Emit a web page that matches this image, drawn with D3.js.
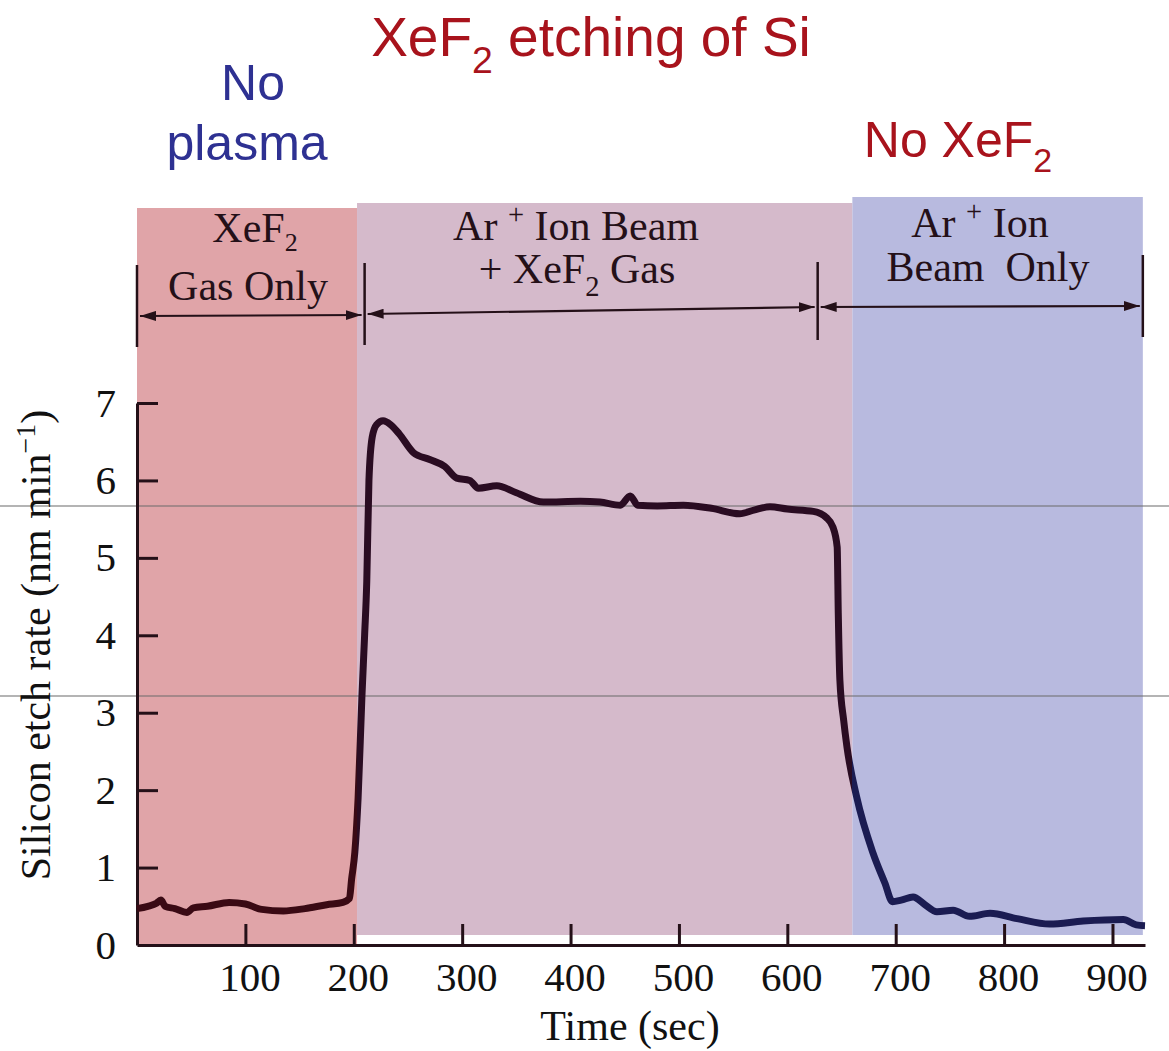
<!DOCTYPE html>
<html><head><meta charset="utf-8">
<script src="https://cdn.jsdelivr.net/npm/d3@7"></script>
<style>body{margin:0;background:#fff;overflow:hidden}</style>
</head><body><svg id="c" width="1169" height="1051"></svg>
<script>
// ---- data ----
const xTickValues = [100, 200, 300, 400, 500, 600, 700, 800, 900];
const yTickValues = [0, 1, 2, 3, 4, 5, 6, 7];
const times = [0, 10, 18, 22, 26, 35, 46, 52, 65, 85, 100, 115, 135, 155, 175, 190, 196,
  198, 201, 204, 207.5, 210, 212, 214, 217, 221, 227, 234, 242, 255, 270, 284, 295, 307, 315, 332, 350, 375,
  409, 427, 446, 455, 462, 480, 504, 530, 556, 570, 584, 600, 624, 636, 642, 646, 647, 648.5, 652, 655, 664, 679, 690, 697,
  705, 716, 727, 738, 753, 768, 787, 812, 842, 873, 910, 922, 930];
const rates = [0.47, 0.5, 0.54, 0.58, 0.5, 0.47, 0.42, 0.48, 0.5, 0.55, 0.53, 0.46, 0.44, 0.47, 0.52, 0.55, 0.6,
  0.85, 1.2, 1.9, 3.2, 4.0, 4.7, 6.0, 6.56, 6.72, 6.77, 6.72, 6.6, 6.36, 6.27, 6.18, 6.03, 6.0, 5.9, 5.93, 5.84, 5.72,
  5.73, 5.72, 5.68, 5.8, 5.68, 5.67, 5.68, 5.64, 5.57, 5.62, 5.66, 5.63, 5.6, 5.52, 5.4, 5.14, 4.29, 3.42, 2.9, 2.56, 1.91, 1.19, 0.8, 0.56,
  0.58, 0.62, 0.52, 0.43, 0.45, 0.37, 0.41, 0.34, 0.27, 0.31, 0.33, 0.26, 0.25];
const bandStart = [0, 203, 660];
const bandEnd = [203, 660, 928];
const bandColors = ["#e0a4a8", "#d5bacb", "#b8badf"];
const phaseBoundaries = [0, 210, 628, 928];

// ---- layout ----
const svg = d3.select("#c");
const x = d3.scaleLinear().domain([0, 930]).range([137, 1145]);
const y = d3.scaleLinear().domain([0, 7]).range([945, 403]);
const serif = "'Liberation Serif','Times New Roman',serif";
const sans = "'Liberation Sans',Arial,sans-serif";
const ink = "#241018";

// bands
const bandTop = [208, 203, 197];
const bandBottom = [945, 935, 935];
svg.selectAll("rect.band").data(bandStart).join("rect").attr("class", "band")
  .attr("x", (d, i) => x(d)).attr("width", (d, i) => x(bandEnd[i]) - x(d))
  .attr("y", (d, i) => bandTop[i]).attr("height", (d, i) => bandBottom[i] - bandTop[i])
  .attr("fill", (d, i) => bandColors[i]);

// scan artifact lines
[506, 696].forEach(yy => svg.append("line").attr("x1", 0).attr("x2", 1169).attr("y1", yy).attr("y2", yy)
  .attr("stroke", "#6a6a6a").attr("stroke-width", 1.2));

// axes
const xAxis = d3.axisBottom(x).tickValues(xTickValues).tickFormat(d3.format("d"))
  .tickSizeInner(-21).tickSizeOuter(0).tickPadding(17);
const gx = svg.append("g").attr("transform", "translate(0,945)").call(xAxis);
const yAxis = d3.axisLeft(y).tickValues(yTickValues).tickFormat(d3.format("d"))
  .tickSizeInner(-21).tickSizeOuter(0).tickPadding(21);
const gy = svg.append("g").attr("transform", "translate(137,0)").call(yAxis);
[gx, gy].forEach(g => {
  g.select(".domain").attr("stroke", ink).attr("stroke-width", 3);
  g.selectAll(".tick line").attr("stroke", ink).attr("stroke-width", 3);
  g.selectAll(".tick text").attr("font-family", serif).attr("font-size", 41).attr("fill", "#111");
});
gx.selectAll(".tick text").attr("dx", 4);
gy.selectAll(".tick").filter(d => d === 0).select("line").remove();

// axis titles
svg.append("text").attr("x", 630).attr("y", 1040).attr("text-anchor", "middle")
  .attr("font-family", serif).attr("font-size", 42).attr("fill", "#111").text("Time (sec)");
const yl = svg.append("text").attr("transform", "translate(50,645) rotate(-90)").attr("text-anchor", "middle")
  .attr("font-family", serif).attr("font-size", 42).attr("fill", "#111");
yl.append("tspan").text("Silicon etch rate (nm min");
yl.append("tspan").attr("font-size", 28).attr("dy", -15).text("\u22121");
yl.append("tspan").attr("dy", 15).text(")");

// line gradient
const defs = svg.append("defs");
const grad = defs.append("linearGradient").attr("id", "lg").attr("gradientUnits", "userSpaceOnUse")
  .attr("x1", x(0)).attr("x2", x(930)).attr("y1", 0).attr("y2", 0);
const lineCols = ["#3a0a14", "#2a0c22", "#1b1c52"];
const tot = x(930) - x(0);
bandStart.forEach((s, i) => {
  grad.append("stop").attr("offset", (x(s) - x(0)) / tot).attr("stop-color", lineCols[i]);
  grad.append("stop").attr("offset", (x(Math.min(bandEnd[i], 930)) - x(0)) / tot).attr("stop-color", lineCols[i]);
});

const pts = times.map((t, i) => [t, rates[i]]);
svg.append("path").datum(pts)
  .attr("d", d3.line().x(d => x(d[0])).y(d => y(d[1])).curve(d3.curveMonotoneX))
  .attr("fill", "none").attr("stroke", "url(#lg)").attr("stroke-width", 7)
  .attr("stroke-linejoin", "round").attr("stroke-linecap", "butt");

// phase markers and arrows
defs.append("marker").attr("id", "ah").attr("viewBox", "0 0 16 10").attr("refX", 16).attr("refY", 5)
  .attr("markerWidth", 16).attr("markerHeight", 10).attr("markerUnits", "userSpaceOnUse")
  .attr("orient", "auto-start-reverse")
  .append("path").attr("d", "M0,0 L16,5 L0,10 Z").attr("fill", ink);
const barTop = [265, 263, 262, 255];
const barBot = [347, 345, 340, 337];
phaseBoundaries.forEach((t, i) => {
  svg.append("line").attr("x1", x(t)).attr("x2", x(t)).attr("y1", barTop[i]).attr("y2", barBot[i])
    .attr("stroke", ink).attr("stroke-width", 2.5);
});
const arrowY = [[316, 315], [314, 307], [307, 306]];
for (let i = 0; i < 3; i++) {
  svg.append("line").attr("x1", x(phaseBoundaries[i]) + 3).attr("x2", x(phaseBoundaries[i + 1]) - 3)
    .attr("y1", arrowY[i][0]).attr("y2", arrowY[i][1])
    .attr("stroke", ink).attr("stroke-width", 2.2)
    .attr("marker-start", "url(#ah)").attr("marker-end", "url(#ah)");
}

// rich text helper (sub/superscripts)
function rich(xp, yp, parts, opts) {
  const t = svg.append("text").attr("x", xp).attr("y", yp).attr("text-anchor", "middle")
    .attr("font-family", opts.font).attr("font-size", opts.size).attr("fill", opts.color);
  let cur = 0;
  const subOff = opts.subOff != null ? opts.subOff : 0.3;
  parts.forEach(p => {
    const sp = t.append("tspan").text(p.t);
    let target = p.sub ? opts.size * subOff : p.sup ? -opts.size * 0.38 : 0;
    if (target !== cur) { sp.attr("dy", target - cur); cur = target; }
    if (p.sub || p.sup) sp.attr("font-size", opts.size * (opts.subScale || 0.68));
  });
  return t;
}
const so = {font: serif, size: 42, color: ink};
rich(255, 242, [{t: "XeF"}, {t: "2", sub: 1}], {font: serif, size: 42, color: ink, subOff: 0.22, subScale: 0.62});
rich(248, 300, [{t: "Gas Only"}], so);
rich(576, 240, [{t: "Ar "}, {t: "+", sup: 1}, {t: " Ion Beam"}], so);
rich(577, 283, [{t: "+ XeF"}, {t: "2", sub: 1}, {t: " Gas"}], so);
rich(980, 237, [{t: "Ar "}, {t: "+", sup: 1}, {t: " Ion"}], so);
rich(988, 281, [{t: "Beam\u00a0 Only"}], so);

// sans headings
rich(591, 56, [{t: "XeF"}, {t: "2", sub: 1}, {t: " etching of Si"}], {font: sans, size: 55, color: "#a8131c"});
rich(253, 100, [{t: "No"}], {font: sans, size: 50, color: "#2e3192"});
rich(247, 160, [{t: "plasma"}], {font: sans, size: 50, color: "#2e3192"});
rich(958, 157, [{t: "No XeF"}, {t: "2", sub: 1}], {font: sans, size: 50, color: "#a8131c"});
</script>
</body></html>
